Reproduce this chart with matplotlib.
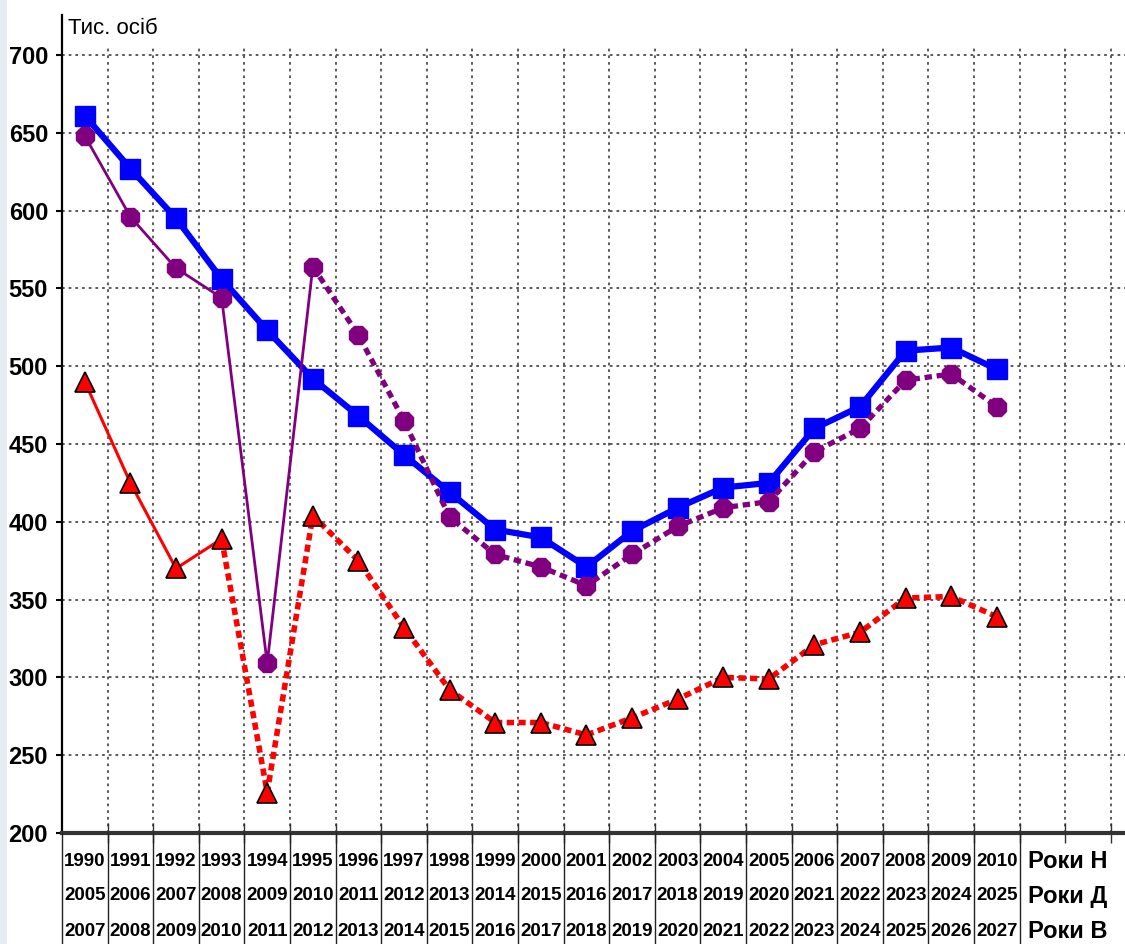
import matplotlib
matplotlib.use('Agg')
import matplotlib.pyplot as plt
from matplotlib.lines import Line2D
from matplotlib.patches import Rectangle
from matplotlib.transforms import blended_transform_factory

# Data
years_n = list(range(1990, 2011))
years_d = list(range(2005, 2026))
years_v = list(range(2007, 2028))
row_labels = ['Роки Н', 'Роки Д', 'Роки В']

blue_vals = [661, 627, 595, 556, 523, 492, 468, 443, 419, 395, 390,
             371, 394, 409, 422, 425, 460, 474, 510, 512, 498]
purple_vals = [648, 596, 563, 544, 309, 564, 520, 465, 403, 379, 371,
               359, 379, 397, 409, 413, 445, 460, 491, 495, 474]
red_vals = [490, 425, 370, 389, 226, 404, 375, 332, 292, 271, 271,
            263, 274, 286, 300, 299, 321, 329, 351, 352, 339]

arial = ['Liberation Sans', 'DejaVu Sans']

x = list(range(len(years_n)))
boundaries = [i - 0.5 for i in range(1, 24)]

fig = plt.figure(figsize=(11.25, 9.44), dpi=100)
# light strip on the left edge
fig.add_artist(Rectangle((0, 0), 7 / 1125, 1, transform=fig.transFigure, color='#e4ecf4', lw=0))

ax = fig.add_axes([62 / 1125, 111 / 944, 1063 / 1125, 818 / 944])
ax.set_xlim(-0.5, 22.81)
ax.set_ylim(200, 725.7)

# Grid (dotted)
ax.vlines(boundaries, 200, 705, colors='#4d4d4d', linestyles=(0, (1.5, 2.2)), lw=1.3, zorder=1)
ax.hlines(range(250, 701, 50), -0.5, 22.81, colors='#4d4d4d', linestyles=(0, (1.5, 2.2)), lw=1.3, zorder=1)

# Blue line
ax.plot(x, blue_vals, color='#0000ff', lw=4.5, marker='s', markersize=14, zorder=3)

# Purple: solid thin to 1995, then dashed thick
ax.plot(x[:6], purple_vals[:6], color='#800080', lw=2, zorder=4)
ax.plot(x[5:], purple_vals[5:], color='#800080', lw=3.8, linestyle=(0, (1.4, 0.9)), zorder=4)
ax.plot(x, purple_vals, linestyle='none', marker='8', markersize=13.5, color='#800080', zorder=4)

# Red: solid thin to 1993, then dashed thick
ax.plot(x[:4], red_vals[:4], color='#ff0000', lw=2.2, zorder=5)
ax.plot(x[3:], red_vals[3:], color='#ff0000', lw=4, linestyle=(0, (1.3, 0.8)), zorder=5)
ax.plot(x, red_vals, linestyle='none', marker='^', markersize=14, markerfacecolor='#ff0000',
        markeredgecolor='black', markeredgewidth=1.2, zorder=6)

# Spines
for s in ['top', 'right']:
    ax.spines[s].set_visible(False)
ax.spines['left'].set_linewidth(1.6)
ax.spines['bottom'].set_linewidth(3)
ax.spines['bottom'].set_color('#333333')

ax.set_yticks(range(200, 701, 50))
ax.set_yticklabels([str(v) for v in range(200, 701, 50)], fontsize=17, fontweight='bold', family=arial)
ax.tick_params(axis='y', length=4, width=1.5, pad=6)
ax.set_xticks(boundaries)
ax.set_xticklabels([])
ax.tick_params(axis='x', direction='inout', length=14, width=1, color='#333333')

# Unit label
fig.text(68 / 1125, (944 - 28) / 944, 'Тис. осіб', fontsize=16, family=arial, va='center', ha='left')

# Year table under the axis
trans = blended_transform_factory(ax.transData, fig.transFigure)
for b in [i - 0.5 for i in range(len(years_n) + 1)]:
    fig.add_artist(Line2D([b, b], [0, 111 / 944], transform=trans, color='#222222', lw=1))

rows = [years_n, years_d, years_v]
row_y = [(944 - 862) / 944, (944 - 896) / 944, (944 - 931) / 944]
for row, yy, lab in zip(rows, row_y, row_labels):
    for i, yr in enumerate(row):
        fig.text(i, yy, str(yr), transform=trans, ha='center', va='center',
                 fontsize=13.5, fontweight='bold', family=arial)
    fig.text(21.55, yy, lab, transform=trans, ha='center', va='center',
             fontsize=17, fontweight='bold', family=arial)

fig.savefig('out.png', dpi=100)
